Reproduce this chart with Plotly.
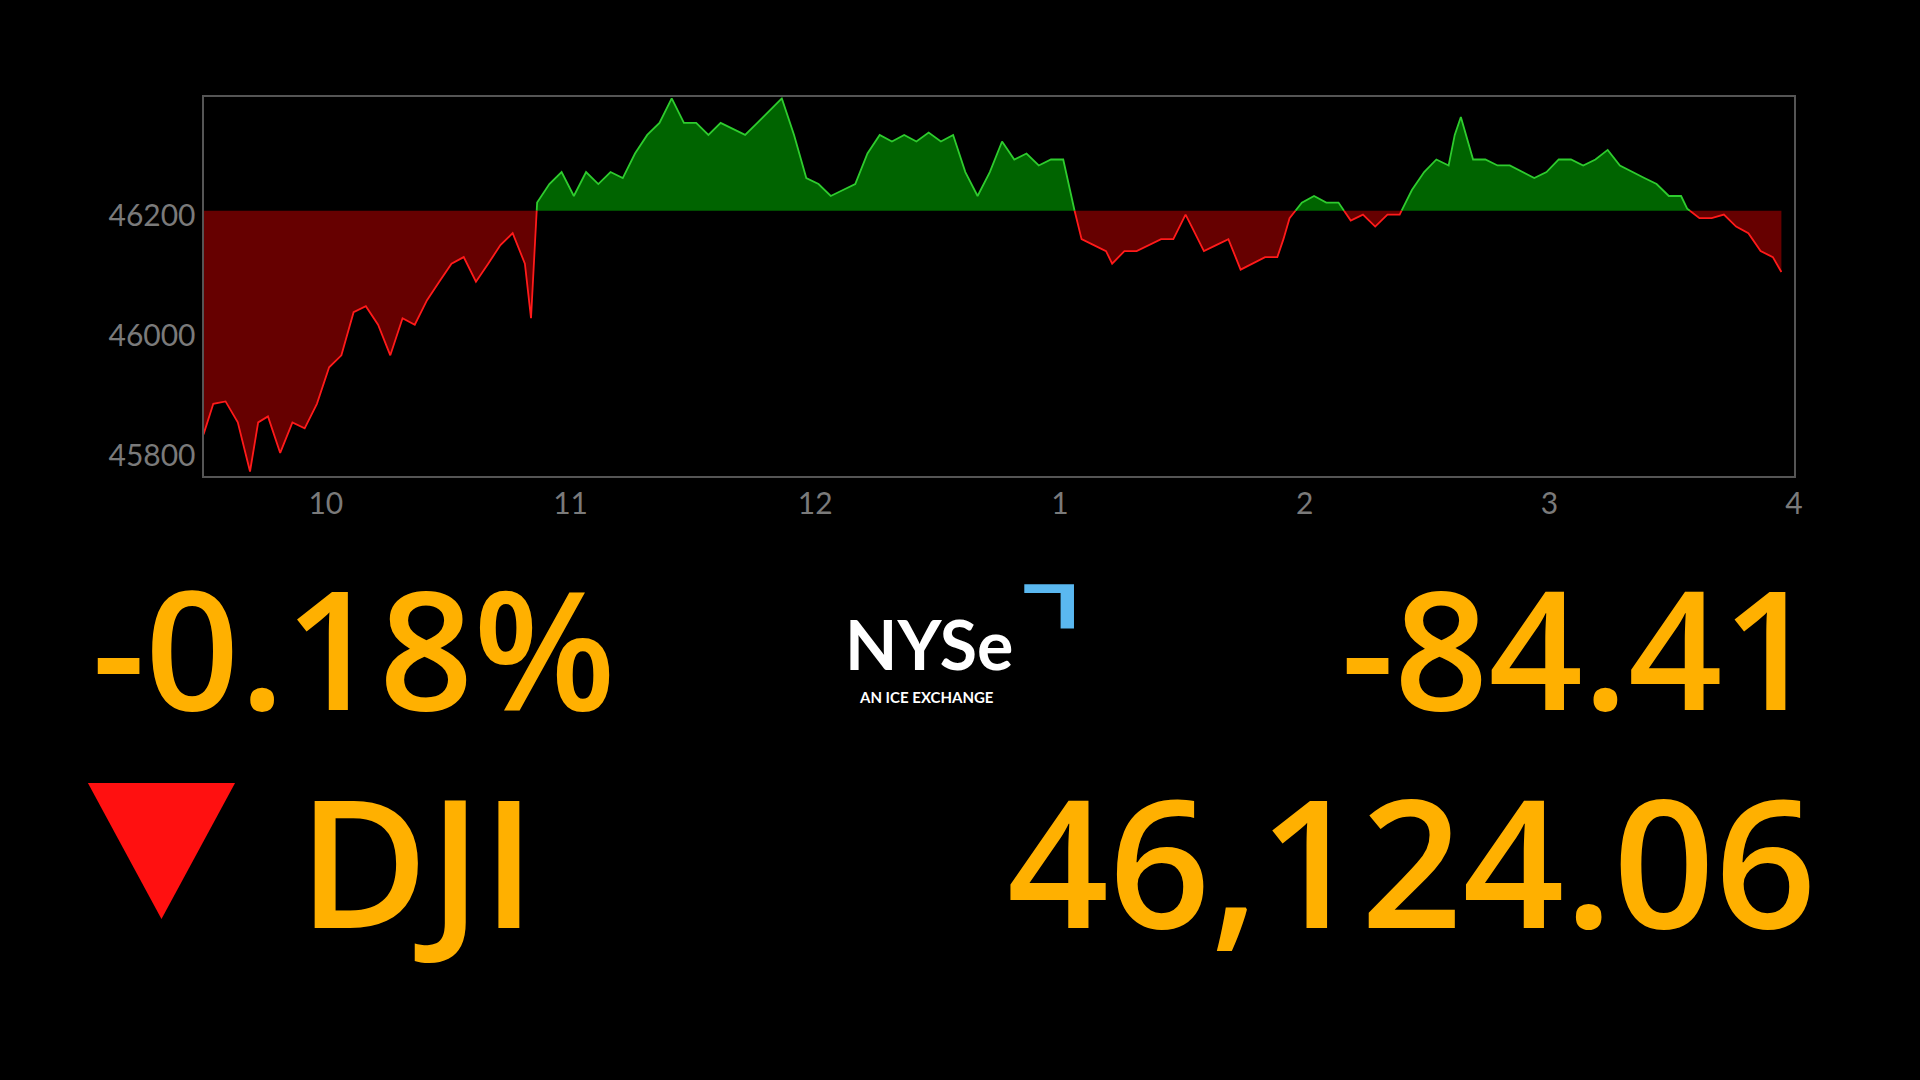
import plotly.graph_objects as go

# minutes since 9:30 and index value
minutes = [0,2.4,5.4,8.4,11.4,13.4,15.8,18.8,21.8,24.8,27.8,30.8,33.8,36.8,39.8,42.8,45.8,48.8,51.8,54.8,57.8,60.8,63.8,66.8,69.8,72.8,75.8,78.8,80.3,81.8,84.8,87.8,90.8,93.8,96.8,99.8,102.8,105.8,108.8,111.8,114.8,117.8,120.8,123.8,126.8,129.8,132.8,135.8,138.8,141.8,144.8,147.8,150.8,153.8,156.8,159.8,162.8,165.8,168.8,171.8,174.8,177.8,180.8,183.8,186.8,189.8,192.8,195.8,198.8,201.8,204.8,207.8,210.8,213.8,215.3,218.3,221.3,222.8,225.8,228.8,231.8,234.8,237.8,240.8,242.3,245.3,248.3,251.3,254.3,257.3,260.3,263.3,264.8,266.3,269.3,272.3,275.3,278.3,281.3,284.3,287.3,290.3,293.3,296.3,299.3,302.3,305.3,306.8,308.3,311.3,314.3,317.3,320.3,323.3,326.3,329.3,332.3,335.3,338.3,341.3,344.3,347.3,350.3,353.3,356.3,359.3,362.3,363.8,366.8,369.8,372.8,375.8,378.8,381.8,384.8,386.9]
values = [45835,45886,45890,45855,45773,45855,45865,45804,45855,45845,45886,45947,45967,46039,46049,46018,45967,46029,46018,46059,46090,46120,46131,46090,46120,46151,46171,46120,46029,46222,46253,46273,46233,46273,46253,46273,46263,46304,46335,46355,46396,46355,46355,46335,46355,46345,46335,46355,46376,46396,46335,46263,46253,46233,46243,46253,46304,46335,46324,46335,46324,46339,46324,46335,46273,46233,46273,46324,46294,46304,46284,46294,46294,46202,46161,46151,46141,46120,46141,46141,46151,46161,46161,46202,46182,46141,46151,46161,46110,46120,46131,46131,46161,46196,46222,46233,46222,46222,46192,46202,46182,46202,46202,46243,46273,46294,46284,46335,46365,46294,46294,46284,46284,46273,46263,46273,46294,46294,46284,46294,46310,46284,46273,46263,46253,46233,46233,46212,46196,46196,46202,46182,46171,46141,46131,46106,46131]
prev_close = 46208.47
tick_vals = [10,11,12,13,14,15,16]
tick_text = ["10","11","12","1","2","3","4"]
y_ticks = [45800,46000,46200]
pct_text = "-0.18%"
chg_text = "-84.41"
last_text = "46,124.06"
ticker = "DJI"

n = min(len(minutes), len(values))
xs = [9.5 + m/60 for m in minutes[:n]]
vs = values[:n]
X, V = [xs[0]], [vs[0]]
for i in range(1, n):
    a, b = vs[i-1], vs[i]
    if (a - prev_close) * (b - prev_close) < 0:
        f = (prev_close - a) / (b - a)
        X.append(xs[i-1] + f*(xs[i]-xs[i-1])); V.append(prev_close)
    X.append(xs[i]); V.append(b)

up = [max(v, prev_close) for v in V]
dn = [min(v, prev_close) for v in V]
gline = [v if v >= prev_close else None for v in V]
rline = [v if v <= prev_close else None for v in V]

fig = go.Figure()
fig.add_trace(go.Scatter(x=X, y=[prev_close]*len(X), mode="lines", line=dict(width=0), hoverinfo="skip"))
fig.add_trace(go.Scatter(x=X, y=up, mode="lines", line=dict(width=0), fill="tonexty", fillcolor="#006400"))
fig.add_trace(go.Scatter(x=X, y=[prev_close]*len(X), mode="lines", line=dict(width=0), hoverinfo="skip"))
fig.add_trace(go.Scatter(x=X, y=dn, mode="lines", line=dict(width=0), fill="tonexty", fillcolor="#660000"))
fig.add_trace(go.Scatter(x=X, y=gline, mode="lines", line=dict(color="#2ecc2e", width=1.8)))
fig.add_trace(go.Scatter(x=X, y=rline, mode="lines", line=dict(color="#ff1a1a", width=1.8)))

fig.update_layout(
    width=1920, height=1080, showlegend=False,
    paper_bgcolor="black", plot_bgcolor="black",
    margin=dict(l=0, r=0, t=0, b=0),
    xaxis=dict(domain=[0.1065, 0.9388], range=[9.5, 16], tickvals=tick_vals, ticktext=tick_text,
               showgrid=False, zeroline=False, showline=True, mirror=True, linecolor="#555", linewidth=2,
               tickfont=dict(family="Lato", size=30, color="#7a7a7a"), ticks=""),
    yaxis=dict(domain=[0.559, 0.910], range=[45765, 46398], tickvals=y_ticks, tickformat="d",
               showgrid=False, zeroline=False, showline=True, mirror=True, linecolor="#555", linewidth=2,
               tickfont=dict(family="Lato", size=30, color="#7a7a7a"), ticks=""),
)

orange = "#FFB000"
big = dict(family="Open Sans", size=165, color=orange, weight=600)
fig.add_annotation(text=pct_text, x=0.047, y=0.402, xref="paper", yref="paper", xanchor="left", yanchor="middle", showarrow=False, font=big)
fig.add_annotation(text=chg_text, x=0.952, y=0.402, xref="paper", yref="paper", xanchor="right", yanchor="middle", showarrow=False, font=big)
big2 = dict(family="Open Sans", size=178, color=orange, weight=600)
fig.add_annotation(text=ticker, x=0.155, y=0.205, xref="paper", yref="paper", xanchor="left", yanchor="middle", showarrow=False, font=big2)
fig.add_annotation(text=last_text, x=0.952, y=0.205, xref="paper", yref="paper", xanchor="right", yanchor="middle", showarrow=False, font=big2)
fig.add_shape(type="path", xref="paper", yref="paper", path="M 0.046 0.275 L 0.123 0.275 L 0.0845 0.149 Z", fillcolor="#ff1010", line=dict(width=0))
fig.add_annotation(text="<b>NYSe</b>", x=0.486, y=0.404, xref="paper", yref="paper", xanchor="center", yanchor="middle", showarrow=False, font=dict(family="Lato", size=68, color="white"))
fig.add_annotation(text="<b>AN ICE EXCHANGE</b>", x=0.485, y=0.355, xref="paper", yref="paper", xanchor="center", yanchor="middle", showarrow=False, font=dict(family="Lato", size=15, color="white"))
fig.add_shape(type="path", xref="paper", yref="paper", path="M 0.536 0.459 L 0.562 0.459 L 0.562 0.418 L 0.555 0.418 L 0.555 0.451 L 0.536 0.451 Z", fillcolor="#5ab8f0", line=dict(width=0))

fig.write_html("out.html", config={"displayModeBar": False},
               post_script="document.body.style.margin='0';document.body.style.background='black';")
